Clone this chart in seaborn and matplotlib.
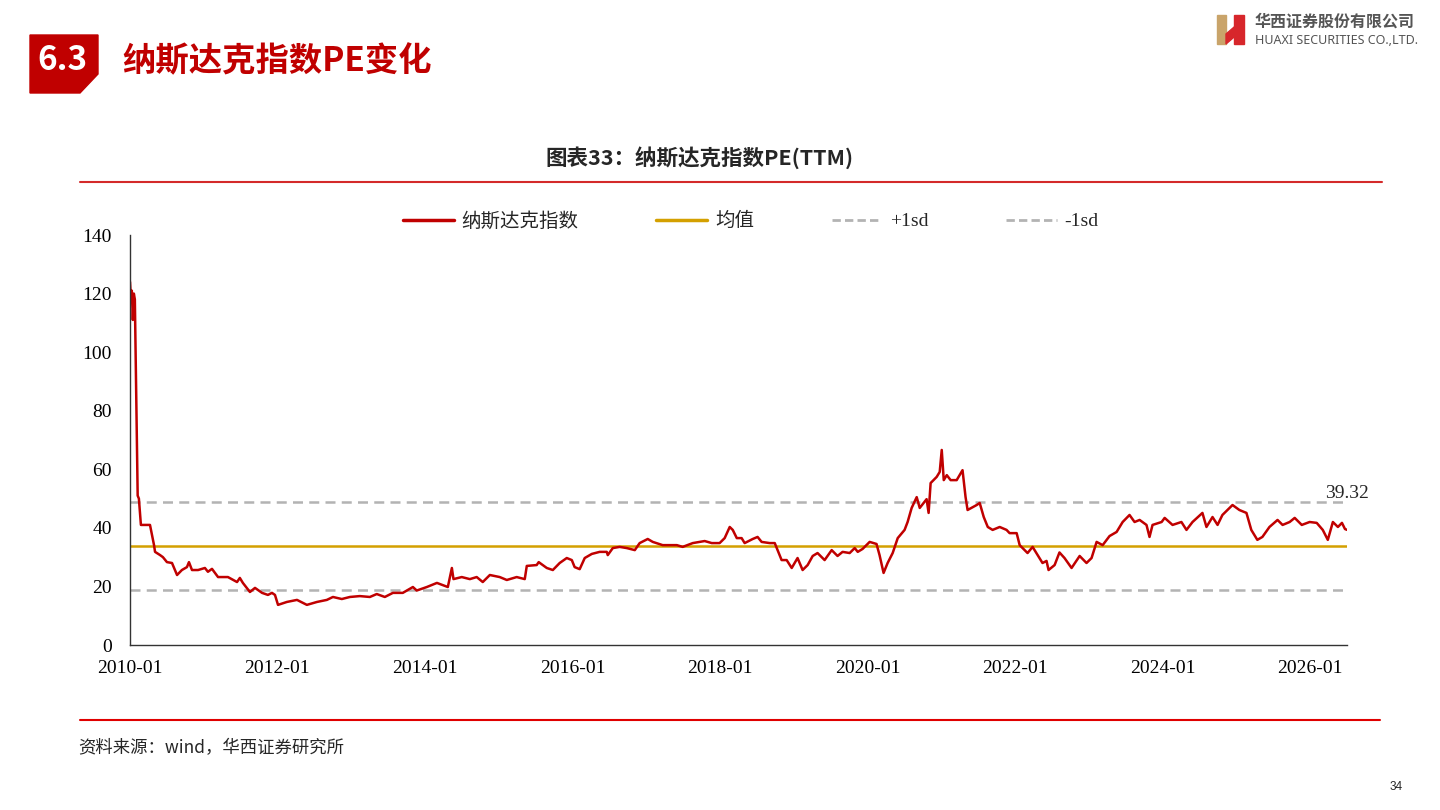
import pandas as pd
import numpy as np
import matplotlib
matplotlib.use('Agg')
import matplotlib.pyplot as plt
import matplotlib.dates as mdates
from matplotlib.patches import Polygon
from matplotlib.lines import Line2D
from matplotlib.font_manager import FontProperties
import seaborn as sns

sns.set_style("white")
plt.rcParams['font.family'] = ['Liberation Serif', 'Noto Sans CJK SC', 'DejaVu Sans']
plt.rcParams['axes.unicode_minus'] = False

# ---- data ----
dates = [
    '2010-01-01', '2010-01-05', '2010-01-10', '2010-01-15', '2010-01-20', '2010-01-25',
    '2010-02-08', '2010-02-14', '2010-02-24', '2010-04-10', '2010-04-30', '2010-05-05',
    '2010-05-30', '2010-06-13', '2010-07-03', '2010-07-28', '2010-08-22', '2010-09-15',
    '2010-10-10', '2010-10-20', '2010-11-04', '2010-12-04', '2011-01-07', '2011-01-22',
    '2011-02-11', '2011-03-13', '2011-05-01', '2011-06-15', '2011-06-29', '2011-07-14',
    '2011-08-18', '2011-09-12', '2011-10-17', '2011-11-15', '2011-12-05', '2011-12-20',
    '2012-01-04', '2012-02-17', '2012-04-07', '2012-05-26', '2012-07-15', '2012-09-02',
    '2012-10-02', '2012-11-15', '2012-12-25', '2013-02-12', '2013-04-03', '2013-05-07',
    '2013-06-16', '2013-07-26', '2013-09-13', '2013-11-02', '2013-11-21', '2014-01-10',
    '2014-03-01', '2014-04-24', '2014-05-14', '2014-05-22', '2014-07-02', '2014-08-11',
    '2014-09-14', '2014-10-14', '2014-11-18', '2015-01-06', '2015-02-10', '2015-03-31',
    '2015-05-10', '2015-05-20', '2015-07-08', '2015-07-18', '2015-08-27', '2015-09-26',
    '2015-10-30', '2015-12-04', '2015-12-29', '2016-01-12', '2016-02-06', '2016-03-02',
    '2016-04-06', '2016-05-15', '2016-06-19', '2016-06-24', '2016-07-19', '2016-08-22',
    '2016-09-26', '2016-11-05', '2016-11-29', '2017-01-08', '2017-02-02', '2017-03-23',
    '2017-06-01', '2017-06-30', '2017-08-19', '2017-10-17', '2017-11-21', '2017-12-30',
    '2018-01-24', '2018-02-18', '2018-03-05', '2018-03-25', '2018-04-18', '2018-05-03',
    '2018-06-12', '2018-07-06', '2018-07-26', '2018-09-04', '2018-09-29', '2018-11-02',
    '2018-11-27', '2018-12-22', '2019-01-20', '2019-02-14', '2019-03-11', '2019-04-05',
    '2019-04-29', '2019-06-03', '2019-07-08', '2019-08-06', '2019-08-31', '2019-10-05',
    '2019-10-30', '2019-11-14', '2019-12-08', '2020-01-12', '2020-02-15', '2020-03-01',
    '2020-03-21', '2020-04-10', '2020-05-05', '2020-05-30', '2020-07-03', '2020-07-18',
    '2020-08-07', '2020-09-01', '2020-09-16', '2020-10-20', '2020-10-30', '2020-11-09',
    '2020-12-09', '2020-12-24', '2021-01-03', '2021-01-13', '2021-01-28', '2021-02-16',
    '2021-03-18', '2021-04-16', '2021-05-01', '2021-05-11', '2021-06-25', '2021-07-10',
    '2021-07-30', '2021-08-19', '2021-09-12', '2021-10-17', '2021-11-20', '2021-12-05',
    '2022-01-09', '2022-01-24', '2022-03-04', '2022-03-29', '2022-05-17', '2022-06-06',
    '2022-06-16', '2022-07-16', '2022-08-09', '2022-09-03', '2022-10-08', '2022-11-17',
    '2022-12-21', '2023-01-15', '2023-02-09', '2023-03-11', '2023-04-14', '2023-05-19',
    '2023-06-18', '2023-07-22', '2023-08-16', '2023-09-10', '2023-10-14', '2023-10-29',
    '2023-11-13', '2023-12-28', '2024-01-12', '2024-02-20', '2024-04-04', '2024-04-29',
    '2024-05-29', '2024-07-17', '2024-08-06', '2024-09-05', '2024-09-30', '2024-10-24',
    '2024-12-13', '2025-01-16', '2025-02-20', '2025-03-16', '2025-04-15', '2025-05-10',
    '2025-06-14', '2025-07-24', '2025-08-18', '2025-09-22', '2025-10-17', '2025-11-21',
    '2025-12-30', '2026-02-03', '2026-03-05', '2026-03-30', '2026-04-24', '2026-05-19',
    '2026-06-08', '2026-06-23', '2026-07-03',
]
pe_values = [
    124.0, 119.0, 121.0, 111.0, 120.0, 118.0,
    51.0, 50.0, 41.0, 41.0, 34.1, 31.8,
    30.7, 30.0, 28.3, 28.0, 23.9, 25.6,
    26.6, 28.3, 25.6, 25.6, 26.3, 25.0,
    26.0, 23.2, 23.2, 21.5, 22.9, 21.2,
    18.1, 19.5, 17.8, 17.1, 17.8, 17.1,
    13.7, 14.7, 15.4, 13.7, 14.7, 15.4,
    16.4, 15.7, 16.4, 16.7, 16.4, 17.4,
    16.4, 17.8, 17.8, 19.8, 18.6, 19.8,
    21.2, 19.8, 26.3, 22.5, 23.2, 22.5,
    23.2, 21.5, 23.9, 23.2, 22.2, 23.2,
    22.5, 27.0, 27.3, 28.3, 26.3, 25.6,
    28.0, 29.7, 29.0, 26.6, 25.9, 29.7,
    31.1, 31.8, 31.8, 30.7, 33.1, 33.5,
    33.1, 32.4, 34.8, 36.2, 35.2, 34.1,
    34.1, 33.5, 34.8, 35.5, 34.8, 34.8,
    36.5, 40.3, 39.3, 36.5, 36.5, 34.8,
    36.2, 36.9, 35.2, 34.8, 34.8, 29.0,
    29.0, 26.3, 29.7, 25.6, 27.3, 30.4,
    31.4, 29.0, 32.4, 30.4, 31.8, 31.4,
    33.1, 31.8, 32.8, 35.2, 34.5, 30.7,
    24.6, 28.0, 31.4, 36.5, 39.3, 42.0,
    46.8, 50.5, 46.8, 49.8, 45.1, 55.3,
    57.4, 59.1, 66.6, 56.3, 58.0, 56.3,
    56.3, 59.7, 50.5, 46.1, 47.8, 48.5,
    43.7, 40.3, 39.3, 40.3, 39.3, 38.2,
    38.2, 34.1, 31.4, 33.5, 28.0, 28.7,
    25.6, 27.3, 31.6, 29.7, 26.3, 30.4,
    28.0, 29.7, 35.2, 34.1, 37.2, 38.6,
    42.0, 44.4, 42.0, 42.7, 41.0, 36.9,
    41.0, 42.0, 43.4, 41.0, 42.0, 39.3,
    42.0, 45.1, 40.3, 43.7, 41.0, 44.4,
    47.8, 46.1, 45.1, 39.3, 35.9, 36.9,
    40.3, 42.7, 41.0, 42.0, 43.4, 41.0,
    42.0, 41.7, 39.3, 35.9, 42.0, 40.3,
    41.7, 39.6, 39.32,
]
mean_pe = 33.8
plus_1sd = 48.9
minus_1sd = 18.7
last_label = '39.32'

series_names = ['纳斯达克指数', '均值', '+1sd', '-1sd']
tick_years = ['2010-01', '2012-01', '2014-01', '2016-01', '2018-01',
              '2020-01', '2022-01', '2024-01', '2026-01']

RED = '#c00000'
GOLD = '#d4a000'
GREY = '#b3b3b3'
RULE = '#d42a2a'

df = pd.DataFrame({'date': pd.to_datetime(dates), 'pe': pe_values})
n = len(df)
band = pd.DataFrame({
    'date': pd.concat([df['date']] * 3, ignore_index=True),
    'value': [mean_pe] * n + [plus_1sd] * n + [minus_1sd] * n,
    'series': [series_names[1]] * n + [series_names[2]] * n + [series_names[3]] * n,
})

fig = plt.figure(figsize=(14.4, 8.1), dpi=100)
ax = fig.add_axes([130 / 1440, 165 / 810, 1217 / 1440, 410 / 810])

sns.lineplot(data=band, x='date', y='value', hue='series', style='series',
             palette={series_names[1]: GOLD, series_names[2]: GREY, series_names[3]: GREY},
             dashes={series_names[1]: '', series_names[2]: (4, 2.5), series_names[3]: (4, 2.5)},
             linewidth=1.8, ax=ax, legend=False)
sns.lineplot(data=df, x='date', y='pe', color=RED, linewidth=1.8, ax=ax, legend=False)

ax.set_xlim(df['date'].iloc[0], df['date'].iloc[-1])
ax.set_ylim(0, 140)
ax.set_yticks(np.arange(0, 141, 20))
ax.set_xticks(pd.to_datetime(tick_years))
ax.xaxis.set_major_formatter(mdates.DateFormatter('%Y-%m'))
ax.set_xlabel('')
ax.set_ylabel('')
ax.tick_params(axis='both', direction='in', length=5, width=1, colors='#333333',
               labelsize=14, labelcolor='black')
ax.tick_params(axis='y', pad=13)
ax.tick_params(axis='x', pad=11)
for s in ['top', 'right']:
    ax.spines[s].set_visible(False)
for s in ['left', 'bottom']:
    ax.spines[s].set_color('#333333')
    ax.spines[s].set_linewidth(1)
for lab in ax.get_xticklabels() + ax.get_yticklabels():
    lab.set_fontfamily('Liberation Serif')

# last value label
ax.annotate(last_label, xy=(df['date'].iloc[-1], df['pe'].iloc[-1]),
            xytext=(0, 20), textcoords='offset points', ha='center', va='bottom',
            fontsize=14, family='Liberation Serif')

# legend
handles = [
    Line2D([], [], color=RED, lw=2.5),
    Line2D([], [], color=GOLD, lw=2.5),
    Line2D([], [], color=GREY, lw=2, ls=(0, (3, 1.5))),
    Line2D([], [], color=GREY, lw=2, ls=(0, (3, 1.5))),
]
fig.legend(handles, series_names, loc='center', bbox_to_anchor=(751 / 1440, 1 - 221 / 810),
           ncol=4, frameon=False, handlelength=2.6, handletextpad=0.4, columnspacing=4.0,
           prop=FontProperties(family=['Liberation Serif', 'Noto Sans CJK SC'], size=14))

# chart title and rules
fig.text(700 / 1440, 1 - 158 / 810, '图表33：纳斯达克指数PE(TTM)', ha='center', va='center',
         fontsize=15.5, fontweight='bold', family=['Noto Sans CJK SC', 'DejaVu Sans'])
fig.add_artist(Line2D([80 / 1440, 1382 / 1440], [1 - 182 / 810] * 2, color=RULE, lw=1.5))
fig.add_artist(Line2D([80 / 1440, 1380 / 1440], [1 - 720 / 810] * 2, color='#e00000', lw=1.5))

# page header
box = Polygon([(30 / 1440, 1 - 35 / 810), (98 / 1440, 1 - 35 / 810), (98 / 1440, 1 - 74 / 810),
               (80 / 1440, 1 - 93 / 810), (30 / 1440, 1 - 93 / 810)],
              closed=True, transform=fig.transFigure, color=RED)
fig.add_artist(box)
fig.text(62 / 1440, 1 - 61 / 810, '6.3', ha='center', va='center', color='white',
         fontsize=24, fontweight='bold', family=['Noto Sans CJK SC', 'DejaVu Sans'])
fig.text(122 / 1440, 1 - 62 / 810, '纳斯达克指数PE变化', ha='left', va='center', color=RED,
         fontsize=24, fontweight='bold', family=['Noto Sans CJK SC', 'DejaVu Sans'])

# logo
fig.add_artist(Polygon([(1217 / 1440, 1 - 15 / 810), (1226 / 1440, 1 - 15 / 810),
                        (1226 / 1440, 1 - 44 / 810), (1217 / 1440, 1 - 44 / 810)],
                       transform=fig.transFigure, color='#c9a46a'))
fig.add_artist(Polygon([(1226 / 1440, 1 - 34 / 810), (1240 / 1440, 1 - 22 / 810),
                        (1240 / 1440, 1 - 32 / 810), (1226 / 1440, 1 - 44 / 810)],
                       transform=fig.transFigure, color='#d7262b'))
fig.add_artist(Polygon([(1234 / 1440, 1 - 15 / 810), (1244 / 1440, 1 - 15 / 810),
                        (1244 / 1440, 1 - 44 / 810), (1234 / 1440, 1 - 44 / 810)],
                       transform=fig.transFigure, color='#d7262b'))
fig.text(1255 / 1440, 1 - 22 / 810, '华西证券股份有限公司', ha='left', va='center', color='#555555',
         fontsize=11.5, fontweight='bold', family=['Noto Sans CJK SC', 'DejaVu Sans'])
fig.text(1255 / 1440, 1 - 40 / 810, 'HUAXI SECURITIES CO.,LTD.', ha='left', va='center',
         color='#555555', fontsize=9, family=['Noto Sans', 'DejaVu Sans'])

# footer
fig.text(78 / 1440, 1 - 748 / 810, '资料来源：wind，华西证券研究所', ha='left', va='center',
         fontsize=12.5, style='italic', family=['Noto Sans CJK SC', 'DejaVu Sans'])
fig.text(1396 / 1440, 1 - 787 / 810, '34', ha='center', va='center', fontsize=8.5,
         family=['Liberation Sans', 'DejaVu Sans'])

fig.savefig('out.png', dpi=100)
